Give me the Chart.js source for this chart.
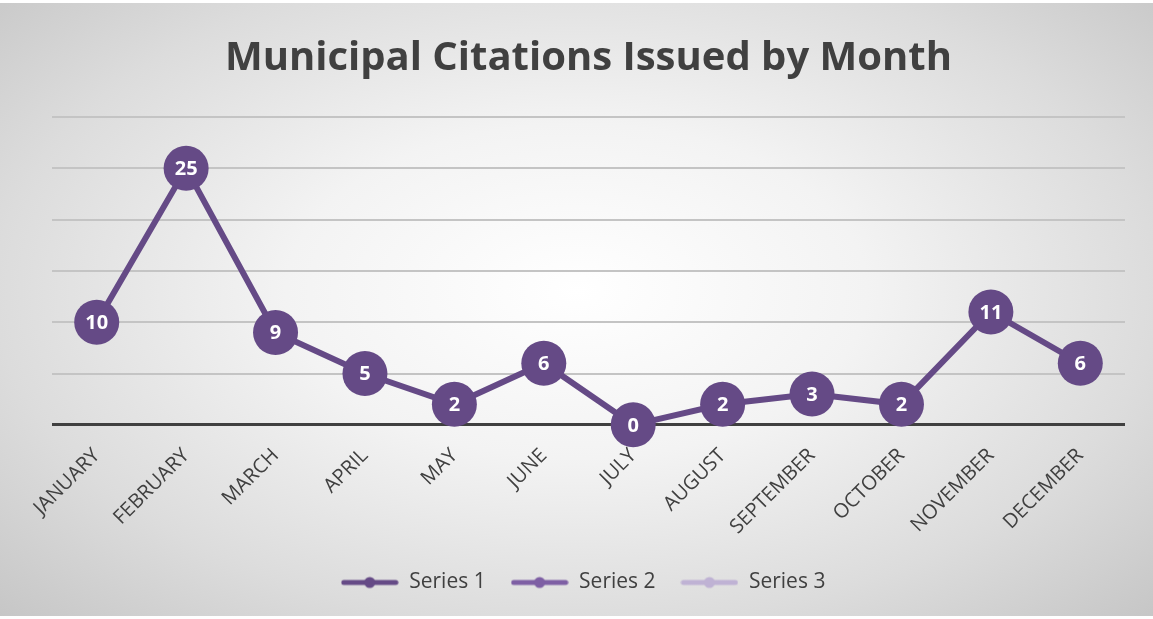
<!DOCTYPE html>
<html><head><meta charset="utf-8">
<script src="https://cdn.jsdelivr.net/npm/chart.js@4"></script>
<style>
html,body{margin:0;padding:0;}
body{width:1153px;height:619px;overflow:hidden;background:#ffffff;position:relative;}
#bg{position:absolute;left:0;top:3px;width:1153px;height:613px;background:radial-gradient(ellipse 72% 78% at 50% 47%, #ffffff 0%, #f3f3f3 35%, #dcdcdc 70%, #c4c4c4 100%);}
canvas{position:absolute;left:0;top:0;}
</style></head><body>
<div id="bg"></div>
<canvas id="c" width="1153" height="619"></canvas>
<script>
const months = ["JANUARY","FEBRUARY","MARCH","APRIL","MAY","JUNE","JULY","AUGUST","SEPTEMBER","OCTOBER","NOVEMBER","DECEMBER"];
const series1 = [10, 25, 9, 5, 2, 6, 0, 2, 3, 2, 11, 6];
const series2 = [];
const series3 = [];
const seriesNames = ["Series 1", "Series 2", "Series 3"];
const seriesColors = ["#654a86", "#7e5fa4", "#bfb2d4"];
const yTicks = [0, 5, 10, 15, 20, 25, 30];

function legendIcon(color) {
  const cv = document.createElement('canvas');
  cv.width = 58; cv.height = 14;
  const g = cv.getContext('2d');
  g.strokeStyle = color; g.lineWidth = 5; g.lineCap = 'round';
  g.beginPath(); g.moveTo(3, 7); g.lineTo(55, 7); g.stroke();
  g.fillStyle = color;
  g.beginPath(); g.arc(29, 7, 5.5, 0, Math.PI * 2); g.fill();
  return cv;
}
const icons = seriesColors.map(legendIcon);

const valueLabels = {
  id: 'valueLabels',
  afterDatasetsDraw(chart) {
    const ctx = chart.ctx;
    const meta = chart.getDatasetMeta(0);
    const ds = chart.data.datasets[0];
    ctx.save();
    ctx.fillStyle = '#ffffff';
    ctx.font = 'bold 20px "Open Sans"';
    ctx.textAlign = 'center';
    ctx.textBaseline = 'middle';
    meta.data.forEach((pt, i) => {
      ctx.fillText(String(ds.data[i]), pt.x, pt.y + 1);
    });
    ctx.restore();
  }
};

new Chart(document.getElementById('c'), {
  type: 'line',
  data: {
    labels: months,
    datasets: [
      { label: seriesNames[0], data: series1, borderColor: seriesColors[0], backgroundColor: seriesColors[0],
        borderWidth: 6, pointRadius: 22.5, pointHoverRadius: 22.5, pointBorderWidth: 0, tension: 0, clip: false },
      { label: seriesNames[1], data: series2, borderColor: seriesColors[1], backgroundColor: seriesColors[1], borderWidth: 5, pointRadius: 22 },
      { label: seriesNames[2], data: series3, borderColor: seriesColors[2], backgroundColor: seriesColors[2], borderWidth: 5, pointRadius: 22 }
    ]
  },
  options: {
    responsive: false,
    animation: false,
    events: [],
    layout: { padding: { left: 52, right: 28, top: 0, bottom: 16 } },
    scales: {
      x: {
        offset: true,
        grid: { display: false, drawTicks: false },
        border: { display: false },
        ticks: { color: '#404040', font: { family: 'Open Sans', size: 20 }, minRotation: 45, maxRotation: 45, padding: 19, autoSkip: false }
      },
      y: {
        min: 0, max: 30,
        afterBuildTicks(axis) { axis.ticks = yTicks.map(v => ({ value: v })); },
        grid: {
          drawTicks: false,
          color: c => c.tick && c.tick.value === 0 ? '#404040' : '#c4c4c4',
          lineWidth: c => c.tick && c.tick.value === 0 ? 3 : 2
        },
        border: { display: false },
        ticks: { display: false }
      }
    },
    plugins: {
      title: {
        display: true, text: 'Municipal Citations Issued by Month', color: '#404040',
        font: { family: 'Open Sans', weight: 'bold', size: 40 },
        padding: { top: 35, bottom: 34 }
      },
      legend: {
        position: 'bottom',
        labels: {
          usePointStyle: true, pointStyleWidth: 58, padding: 14,
          color: '#404040', font: { family: 'Open Sans', size: 21 },
          generateLabels(chart) {
            return chart.data.datasets.map((d, i) => ({
              text: d.label + '  ', pointStyle: icons[i], fillStyle: seriesColors[i], strokeStyle: seriesColors[i],
              lineWidth: 0, hidden: false, datasetIndex: i, fontColor: '#404040'
            }));
          }
        }
      },
      tooltip: { enabled: false }
    }
  },
  plugins: [valueLabels]
});
</script>
</body></html>
